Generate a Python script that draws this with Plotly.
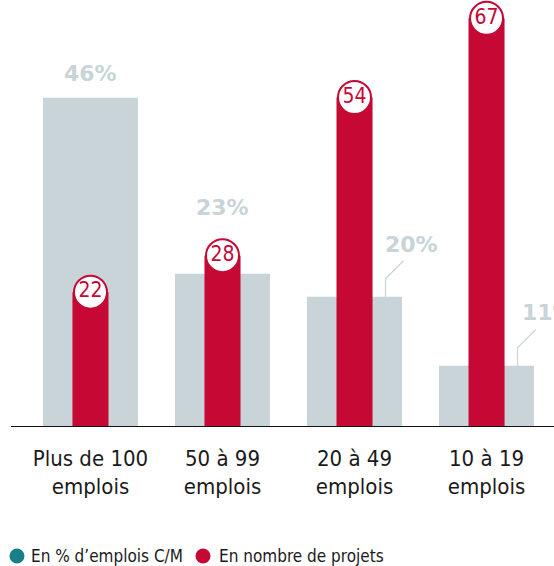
import plotly.graph_objects as go

categories = ["Plus de 100<br>emplois", "50 à 99<br>emplois", "20 à 49<br>emplois", "10 à 19<br>emplois"]
pct_emplois = [46, 23, 20, 11]
nb_projets = [22, 28, 54, 67]
pct_labels = ["46%", "23%", "20%", "11%"]
legend_names = ["En % d\u2019emplois C/M", "En nombre de projets"]

GREY = "#c8d4d8"
RED = "#c50834"
TEAL = "#1b7f87"
NARROW = "Liberation Sans Narrow, DejaVu Sans Condensed, Roboto Condensed, Arial Narrow, sans-serif"
WIDE = "DejaVu Sans, sans-serif"

xs = list(range(len(categories)))

fig = go.Figure()
fig.add_trace(go.Bar(x=xs, y=pct_emplois, width=0.72, marker=dict(color=GREY, line=dict(width=0)),
                     yaxis="y", showlegend=False, hoverinfo="skip"))
fig.add_trace(go.Bar(x=xs, y=nb_projets, width=0.273, marker=dict(color=RED, line=dict(width=0)),
                     yaxis="y2", showlegend=False, hoverinfo="skip"))
fig.add_trace(go.Scatter(x=xs, y=nb_projets, yaxis="y2", mode="markers+text",
                         marker=dict(symbol="circle", size=33, color="white", line=dict(color=RED, width=2)),
                         text=[str(v) for v in nb_projets], textposition="middle center",
                         textfont=dict(family=NARROW, size=21, color=RED),
                         cliponaxis=False, showlegend=False, hoverinfo="skip"))

# (xshift, yshift, xanchor) per label — layout only
label_pos = [(0, 24, "center"), (0, 66, "center"), (57, 52, "center"), (33, 53, "left")]
for i, (lab, v) in enumerate(zip(pct_labels, pct_emplois)):
    dx, dy, anc = label_pos[i]
    fig.add_annotation(x=xs[i], y=v, xref="x", yref="y", text=lab, showarrow=False,
                       xanchor=anc, yanchor="middle", xshift=dx, yshift=dy,
                       font=dict(family=WIDE, size=22, color=GREY, weight="bold"))

for i in (2, 3):
    fig.add_shape(type="path", xref="x", yref="y", xsizemode="pixel", ysizemode="pixel",
                  xanchor=xs[i], yanchor=pct_emplois[i],
                  path="M 31,0 L 31,18 L 49,36", line=dict(color=GREY, width=1.2))

# manual legend (circle + label), positions in paper coords
legend_items = [(legend_names[0], TEAL, 0.011, 0.033), (legend_names[1], RED, 0.3536, 0.3794)]
leg_y = -0.3125
for name, col, cx, tx in legend_items:
    fig.add_shape(type="circle", xref="paper", yref="paper", xsizemode="pixel", ysizemode="pixel",
                  xanchor=cx, yanchor=leg_y, x0=-7.5, x1=7.5, y0=-7.5, y1=7.5,
                  fillcolor=col, line=dict(width=0))
    fig.add_annotation(x=tx, y=leg_y, xref="paper", yref="paper", text=name, showarrow=False,
                       xanchor="left", yanchor="middle",
                       font=dict(family=NARROW, size=17, color="#1a1a1a"))

fig.update_layout(
    width=554, height=566,
    margin=dict(l=11, r=0, t=10, b=140, autoexpand=False),
    paper_bgcolor="white", plot_bgcolor="white",
    barmode="overlay",
    xaxis=dict(range=[-0.602, 3.511], tickvals=xs, ticktext=categories, showline=True,
               linecolor="#111", linewidth=1.2, showgrid=False, zeroline=False, ticks="",
               ticklabelstandoff=12,
               tickfont=dict(family=NARROW, size=22, color="#1a1a1a")),
    yaxis=dict(range=[3.13, 57.44], visible=False, showgrid=False, zeroline=False),
    yaxis2=dict(range=[0, 68.37], overlaying="y", visible=False, showgrid=False, zeroline=False),
    showlegend=False,
)

fig.write_html("out.html", config={"displayModeBar": False},
               post_script="document.body.style.margin='0';document.body.style.padding='0';")
